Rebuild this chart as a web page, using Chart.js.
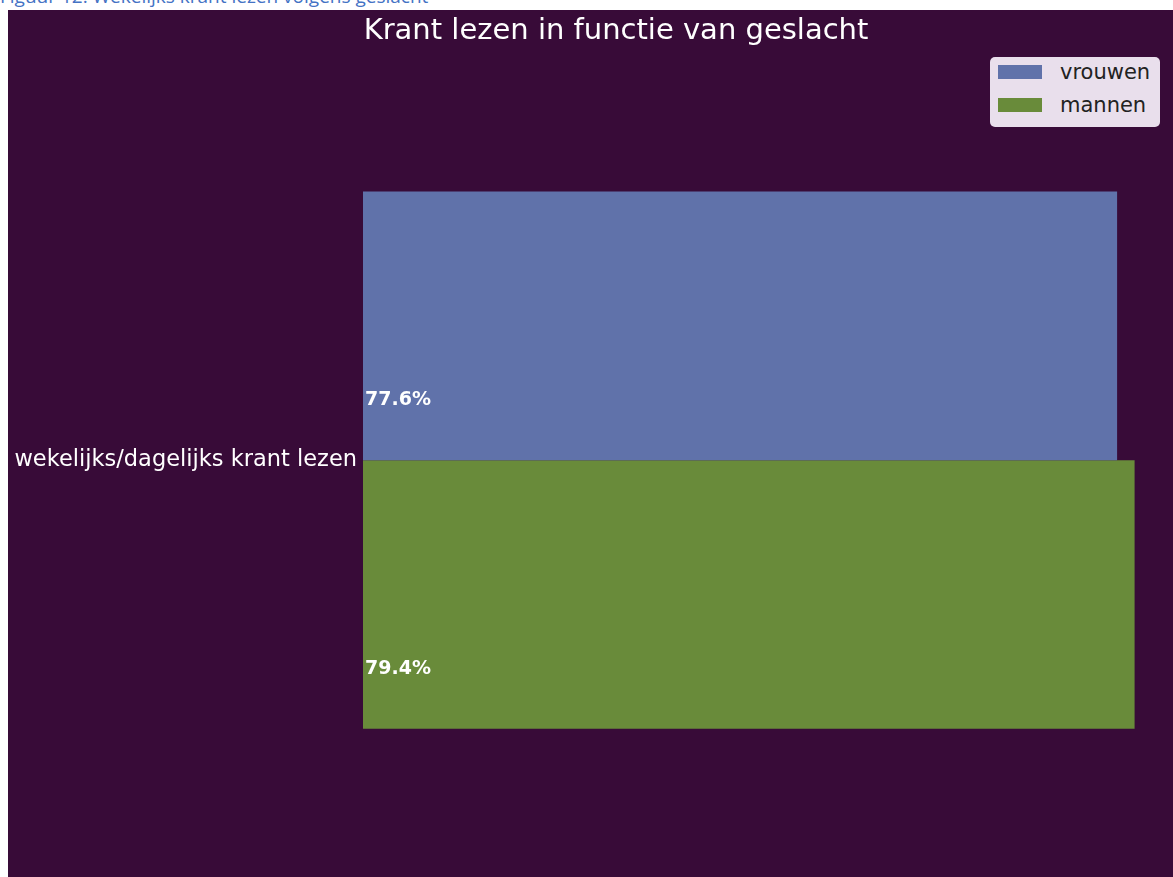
<!DOCTYPE html>
<html>
<head>
<meta charset="utf-8">
<script src="https://cdn.jsdelivr.net/npm/chart.js@4.4.1/dist/chart.umd.min.js"></script>
<style>
  html, body { margin: 0; padding: 0; background: #ffffff; overflow: hidden; width: 1173px; height: 877px; }
  #caption {
    position: absolute; left: 0; top: -17px;
    font-family: "Open Sans", sans-serif; font-size: 19px; color: #4472c4; white-space: nowrap;
  }
  #plot {
    position: absolute; left: 8px; top: 10px; width: 1165px; height: 867px;
    background: #380b38; overflow: hidden;
  }
  #wrap { position: absolute; left: 0; top: 0; width: 1216px; height: 873px; }
  #legend {
    position: absolute; left: 982px; top: 47px; width: 170px; height: 70px;
    background: #e9dfec; border-radius: 5px;
    font-family: "DejaVu Sans", sans-serif; font-size: 21px; color: #222;
  }
  .item { position: absolute; left: 8px; height: 22px; line-height: 22px; }
  .sw { position: absolute; left: 0; top: 4px; width: 44px; height: 14px; }
  .lbl { position: absolute; left: 62px; top: 0; }
</style>
</head>
<body>
<div id="caption">Figuur 12: Wekelijks krant lezen volgens geslacht</div>
<div id="plot">
  <div id="wrap"><canvas id="chart"></canvas></div>
  <div id="legend"></div>
</div>
<script>
const categories = ['wekelijks/dagelijks krant lezen'];
const seriesNames = ['vrouwen', 'mannen'];
const vrouwen = [77.6];
const mannen = [79.4];
const colors = ['#6072aa', '#698b3a'];

// value labels at the start of each bar, a bit below its middle
const barLabels = {
  id: 'barLabels',
  afterDatasetsDraw(chart) {
    const ctx = chart.ctx;
    ctx.save();
    ctx.font = 'bold 19px "DejaVu Sans"';
    ctx.fillStyle = '#ffffff';
    ctx.textAlign = 'left';
    ctx.textBaseline = 'middle';
    chart.data.datasets.forEach((ds, i) => {
      chart.getDatasetMeta(i).data.forEach((bar, j) => {
        ctx.fillText(ds.data[j].toFixed(1) + '%', bar.base + 2, bar.y + bar.height * 0.277);
      });
    });
    ctx.restore();
  }
};

const ctx = document.getElementById('chart').getContext('2d');
new Chart(ctx, {
  type: 'bar',
  data: {
    labels: categories,
    datasets: [
      { label: seriesNames[0], data: vrouwen, backgroundColor: colors[0] },
      { label: seriesNames[1], data: mannen, backgroundColor: colors[1] }
    ]
  },
  options: {
    indexAxis: 'y',
    responsive: true,
    maintainAspectRatio: false,
    animation: false,
    barPercentage: 1,
    categoryPercentage: 0.666,
    layout: { padding: 0 },
    scales: {
      x: { display: false, min: 0, max: 88.6 },
      y: {
        grid: { display: false, drawTicks: false },
        border: { display: false },
        ticks: { color: '#ffffff', font: { family: 'DejaVu Sans', size: 22.5 }, padding: 6 },
        afterFit(scale) { scale.width = 355; }
      }
    },
    plugins: {
      legend: { display: false },
      tooltip: { enabled: false },
      title: {
        display: true,
        text: 'Krant lezen in functie van geslacht',
        color: '#ffffff',
        font: { family: 'DejaVu Sans', size: 29, weight: 'normal' },
        padding: { top: 4, bottom: 8 }
      }
    }
  },
  plugins: [barLabels]
});

// legend box drawn inside the plot, like the original
const legend = document.getElementById('legend');
seriesNames.forEach((name, i) => {
  const item = document.createElement('div');
  item.className = 'item';
  item.style.top = (4 + i * 33) + 'px';
  item.innerHTML = '<div class="sw" style="background:' + colors[i] + '"></div><div class="lbl">' + name + '</div>';
  legend.appendChild(item);
});
</script>
</body>
</html>
